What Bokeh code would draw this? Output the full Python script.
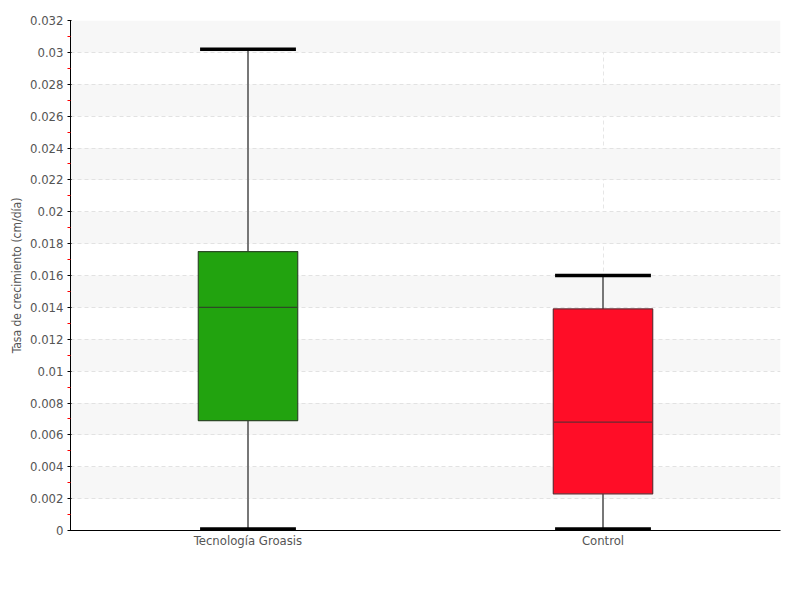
from bokeh.plotting import figure
from bokeh.models import ColumnDataSource, Range1d, FactorRange, FixedTicker, CustomJSTickFormatter
from bokeh.transform import dodge
from bokeh.embed import file_html
from bokeh.resources import INLINE

categories = ["Tecnología Groasis", "Control"]
mins = [0.0001, 0.0001]
q1s = [0.0069, 0.0023]
medians = [0.0140, 0.0068]
q3s = [0.0175, 0.0139]
maxs = [0.0302, 0.0160]
colors = ["#22a30f", "#ff0d27"]
outline_colors = ["#2d4a26", "#6a2a32"]
y_ticks = [round(i * 0.002, 3) for i in range(17)]

src = ColumnDataSource(dict(cat=categories, lo=mins, q1=q1s, med=medians, q3=q3s,
                            hi=maxs, color=colors, oc=outline_colors))

FONT = "DejaVu Sans Condensed"
xr = FactorRange(*categories, range_padding=0)
p = figure(x_range=xr, y_range=Range1d(0, 0.032),
           frame_width=710, frame_height=510, output_backend="svg", toolbar_location=None,
           min_border_left=70, min_border_top=20, min_border_right=12, min_border_bottom=50)
p.outline_line_color = None
p.background_fill_color = "white"

# grids
p.ygrid.ticker = FixedTicker(ticks=y_ticks)
p.ygrid.grid_line_color = "#e2e2e2"
p.ygrid.grid_line_dash = "4 3"
p.ygrid.band_fill_color = "#f7f7f7"
p.ygrid.band_fill_alpha = 1
p.xgrid.grid_line_color = "#e6e6e6"
p.xgrid.grid_line_dash = "4 3"

# whiskers
p.segment(x0="cat", y0="lo", x1="cat", y1="q1", source=src, line_color="#777777", line_width=2)
p.segment(x0="cat", y0="q3", x1="cat", y1="hi", source=src, line_color="#777777", line_width=2)
# boxes
p.vbar(x="cat", width=0.28, bottom="q1", top="q3", source=src, fill_color="color",
       line_color="oc", line_width=1.2)
p.segment(x0=dodge("cat", -0.138, range=xr), y0="med", x1=dodge("cat", 0.138, range=xr), y1="med",
          source=src, line_color="oc", line_width=1.2)
# caps
for col in ("hi", "lo"):
    p.segment(x0=dodge("cat", -0.135, range=xr), y0=col, x1=dodge("cat", 0.135, range=xr), y1=col,
              source=src, line_color="black", line_width=3.5)

# axes
ya = p.yaxis[0]
ya.ticker = FixedTicker(ticks=y_ticks, minor_ticks=[round(0.001 + i * 0.002, 4) for i in range(16)])
ya.formatter = CustomJSTickFormatter(code="return String(Math.round(tick*1000)/1000);")
ya.axis_label = "Tasa de crecimiento (cm/día)"
ya.axis_label_text_font = FONT
ya.axis_label_text_font_style = "normal"
ya.axis_label_text_font_size = "12px"
ya.axis_label_text_color = "#555555"
ya.axis_label_standoff = 3
ya.major_label_text_font = FONT
ya.major_label_text_font_size = "13px"
ya.major_label_text_color = "#555555"
ya.major_label_standoff = 4
ya.axis_line_color = "black"
ya.major_tick_line_color = "black"
ya.major_tick_out = 3
ya.major_tick_in = 1
ya.minor_tick_line_color = "red"
ya.minor_tick_out = 3
ya.minor_tick_in = 0

xa = p.xaxis[0]
xa.major_label_text_font = FONT
xa.major_label_text_font_size = "13px"
xa.major_label_text_color = "#555555"
xa.major_tick_line_color = None
xa.major_tick_out = 0
xa.major_tick_in = 0
xa.minor_tick_line_color = None
xa.axis_line_color = "black"
xa.major_label_standoff = 2

open("out.html", "w").write(file_html(p, INLINE))
